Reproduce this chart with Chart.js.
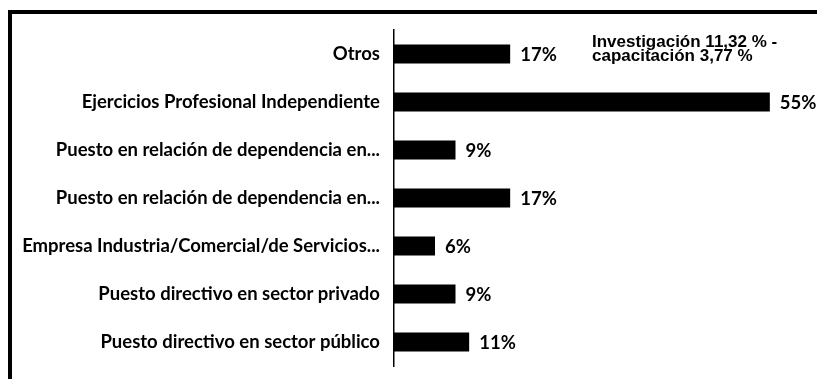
<!DOCTYPE html>
<html>
<head>
<meta charset="utf-8">
<script src="https://cdn.jsdelivr.net/npm/chart.js@4/dist/chart.umd.min.js"></script>
<style>
  html, body { margin: 0; padding: 0; background: #fff; }
  #wrap { position: relative; width: 817px; height: 379px; overflow: hidden; }
  #marco { position: absolute; left: 8px; top: 10px; width: 900px; height: 500px;
           border-top: 4px solid #000; border-left: 4px solid #000; }
  #myChart1 { position: absolute; left: 0; top: 0; }
</style>
</head>
<body>
<div id="wrap">
  <div id="marco"></div>
  <canvas id="myChart1" width="817" height="379"></canvas>
</div>
<script>
var categorias = [
    "Otros",
    "Ejercicios Profesional Independiente",
    "Puesto en relación de dependencia en...",
    "Puesto en relación de dependencia en...",
    "Empresa Industria/Comercial/de Servicios...",
    "Puesto directivo en sector privado",
    "Puesto directivo en sector público"
];
var porcentajes = [17, 55, 9, 17, 6, 9, 11];
var nota = ["Investigación 11,32 % -", "capacitación 3,77 %"];

var fuente = "Lato";
var tam = 18.5;

// valores al final de cada barra + nota de la esquina
var etiquetas = {
    id: "etiquetas",
    afterDatasetsDraw: function(chart) {
        var ctx = chart.ctx;
        var meta = chart.getDatasetMeta(0);
        ctx.save();
        ctx.fillStyle = "#000";
        ctx.font = "bold " + tam + "px " + fuente;
        ctx.textBaseline = "middle";
        ctx.textAlign = "left";
        meta.data.forEach(function(bar, i) {
            ctx.fillText(porcentajes[i] + "%", bar.x + 10, bar.y + 1);
        });

        ctx.font = "bold 17px 'Liberation Sans'";
        ctx.textBaseline = "alphabetic";
        var x0 = chart.chartArea.left + 198;
        var y0 = chart.chartArea.top;
        ctx.fillText(nota[0], x0, y0 + 17);
        ctx.fillText(nota[1], x0, y0 + 31);
        ctx.restore();
    }
};

function dibujar() {
    var ctx1 = document.getElementById("myChart1").getContext("2d");
    new Chart(ctx1, {
        type: "bar",
        data: {
            labels: categorias,
            datasets: [{
                data: porcentajes,
                backgroundColor: "#000",
                borderWidth: 0,
                barPercentage: 0.4,
                categoryPercentage: 1
            }]
        },
        options: {
            indexAxis: "y",
            responsive: false,
            animation: false,
            layout: { padding: { left: 0, right: 13, top: 30, bottom: 13 } },
            plugins: {
                legend: { display: false },
                tooltip: { enabled: false }
            },
            scales: {
                x: { display: false, min: 0, max: 60 },
                y: {
                    grid: { display: false, drawTicks: false },
                    border: { display: true, color: "#000", width: 1.5 },
                    ticks: {
                        color: "#000",
                        autoSkip: false,
                        padding: 14,
                        font: { family: fuente, size: tam, weight: "bold" }
                    },
                    afterFit: function(scale) {
                        scale.width = 394;
                        // sin relleno extra arriba/abajo por las etiquetas
                        scale.paddingTop = 0;
                        scale.paddingBottom = 0;
                    }
                }
            }
        },
        plugins: [etiquetas]
    });
}

if (document.fonts && document.fonts.load) {
    Promise.all([
        document.fonts.load("bold " + tam + "px " + fuente),
        document.fonts.load("bold 17px 'Liberation Sans'")
    ]).then(dibujar, dibujar);
} else {
    dibujar();
}
</script>
</body>
</html>
